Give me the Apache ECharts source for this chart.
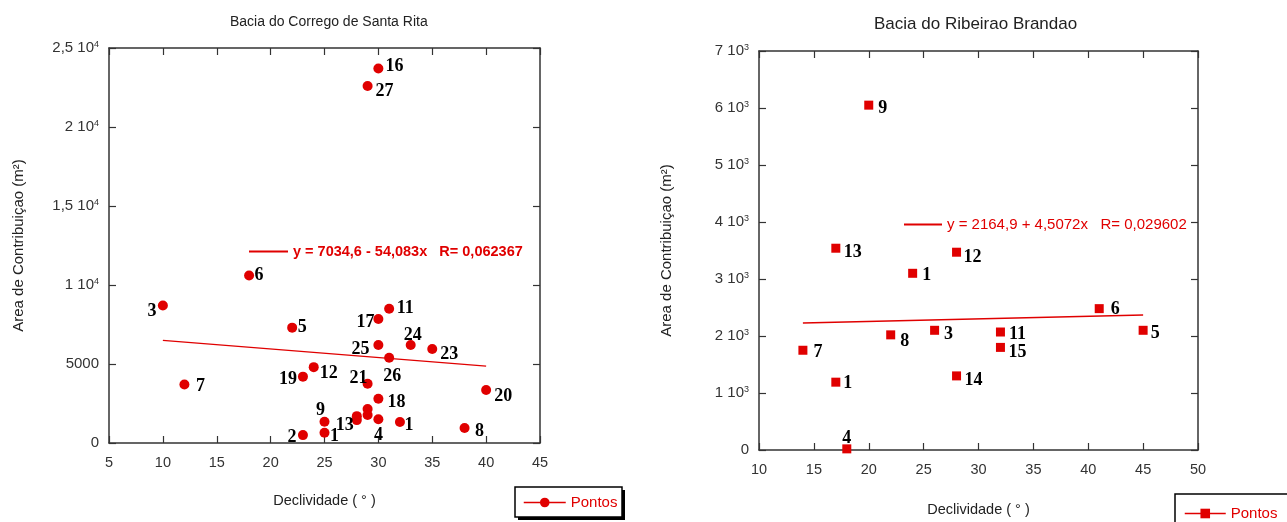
<!DOCTYPE html>
<html><head><meta charset="utf-8">
<script src="https://cdn.jsdelivr.net/npm/echarts@6/dist/echarts.min.js"></script>
<style>html,body{margin:0;padding:0;background:#fff}#c{width:1287px;height:522px}</style>
</head><body><div id="c"></div>
<script>
// ---------- DATA ----------
const titleLeft = 'Bacia do Corrego de Santa Rita';
const titleRight = 'Bacia do Ribeirao Brandao';
const xAxisName = 'Declividade ( ° )';
const yAxisName = 'Area de Contribuiçao (m²)';
const legendName = 'Pontos';

// Left chart (Corrego de Santa Rita)
const leftIds   = ['16','27','6','3','11','17','5','24','25','23','26','12','19','21','7','20','18','','','','13','4','1','9','1','2','8'];
const leftSlope = [30,29,18,10,31,30,22,33,30,35,31,24,23,29,12,40,30,29,29,28,28,30,32,25,25,23,38];
const leftArea  = [23700,22600,10600,8700,8500,7850,7300,6200,6200,5950,5400,4800,4200,3750,3700,3350,2800,2150,1770,1700,1450,1500,1330,1350,650,500,950];
const leftFitSlope = [10, 40];
const leftFitArea  = [6490, 4870];
const leftFitLabel = 'y = 7034,6 - 54,083x   R= 0,062367';
const leftYTickValues = [0, 5000, 10000, 15000, 20000, 25000];
const leftYTickLabels = ['0', '5000', '1 10^4', '1,5 10^4', '2 10^4', '2,5 10^4'];

// Right chart (Ribeirao Brandao)
const rightIds   = ['9','13','12','1','6','3','11','5','8','15','7','14','1','4'];
const rightSlope = [20,17,28,24,41,26,32,45,22,32,14,28,17,18];
const rightArea  = [6050,3540,3470,3100,2480,2100,2070,2100,2020,1800,1750,1300,1190,20];
const rightFitSlope = [14, 45];
const rightFitArea  = [2230, 2370];
const rightFitLabel = 'y = 2164,9 + 4,5072x   R= 0,029602';
const rightYTickValues = [0, 1000, 2000, 3000, 4000, 5000, 6000, 7000];
const rightYTickLabels = ['0', '1 10^3', '2 10^3', '3 10^3', '4 10^3', '5 10^3', '6 10^3', '7 10^3'];

// ---------- STYLE (label placement offsets, px) ----------
const leftLabelOffsets = [[16,-2],[17,5],[10,0],[-11,6],[16,0],[-13,3],[10,0],[2,-10],[-18,4],[17,5],[3,19],[15,6],[-15,3],[-9,-5],[16,2],[17,6],[18,4],[0,0],[0,0],[0,0],[-12,5],[0,16],[9,3],[-4,-11],[10,4],[-11,2],[15,3]];
const rightLabelOffsets = [[14,3],[17,4],[16,5],[14,2],[16,1],[14,4],[17,2],[12,3],[14,6],[17,5],[15,2],[17,4],[12,1],[0,-11]];

const RED = '#e00000';
const SANS = "'Liberation Sans', Arial, sans-serif";
const SERIF = "'Liberation Serif', 'Times New Roman', serif";
const AXIS_COLOR = '#333';

function tickFormatter(values, labels) {
  return function (v) {
    const i = values.indexOf(v);
    if (i < 0) return '';
    const s = labels[i];
    const k = s.indexOf('^');
    if (k < 0) return '{n|' + s + '}';
    return '{n|' + s.slice(0, k) + '}{s|' + s.slice(k + 1) + '}';
  };
}
const tickRich = {
  n: { fontSize: 15, fontFamily: SANS, color: '#333' },
  s: { fontSize: 9, fontFamily: SANS, color: '#333', verticalAlign: 'top' }
};

function mainX(grid, min, max, gap) {
  return {
    type: 'value', gridIndex: grid, min: min, max: max, interval: 5, position: 'bottom',
    name: xAxisName, nameLocation: 'middle', nameGap: gap,
    nameTextStyle: { fontSize: 14.5, fontFamily: SANS, color: '#222' },
    axisLine: { show: true, onZero: false, lineStyle: { color: AXIS_COLOR, width: 1.5 } },
    axisTick: { show: true, inside: true, length: 7, lineStyle: { color: AXIS_COLOR, width: 1.2 } },
    axisLabel: { show: true, margin: 12, fontSize: 14.5, fontFamily: SANS, color: '#333', showMinLabel: true, showMaxLabel: true },
    splitLine: { show: false }
  };
}
function topX(grid, min, max) {
  return {
    type: 'value', gridIndex: grid, min: min, max: max, interval: 5, position: 'top',
    axisLine: { show: true, onZero: false, lineStyle: { color: AXIS_COLOR, width: 1.5 } },
    axisTick: { show: true, inside: true, length: 7, lineStyle: { color: AXIS_COLOR, width: 1.2 } },
    axisLabel: { show: false }, splitLine: { show: false }
  };
}
function mainY(grid, max, interval, values, labels, gap) {
  return {
    type: 'value', gridIndex: grid, min: 0, max: max, interval: interval, position: 'left',
    name: yAxisName, nameLocation: 'middle', nameGap: gap,
    nameTextStyle: { fontSize: 15, fontFamily: SANS, color: '#222' },
    axisLine: { show: true, onZero: false, lineStyle: { color: AXIS_COLOR, width: 1.5 } },
    axisTick: { show: true, inside: true, length: 7, lineStyle: { color: AXIS_COLOR, width: 1.2 } },
    axisLabel: { show: true, margin: 10, formatter: tickFormatter(values, labels), rich: tickRich, showMinLabel: true, showMaxLabel: true },
    splitLine: { show: false }
  };
}
function rightY(grid, max, interval) {
  return {
    type: 'value', gridIndex: grid, min: 0, max: max, interval: interval, position: 'right',
    axisLine: { show: true, onZero: false, lineStyle: { color: AXIS_COLOR, width: 1.5 } },
    axisTick: { show: true, inside: true, length: 7, lineStyle: { color: AXIS_COLOR, width: 1.2 } },
    axisLabel: { show: false }, splitLine: { show: false }
  };
}

function pointSeries(name, xi, yi, xs, ys, ids, offsets, symbol, size) {
  return {
    name: name, type: 'line', xAxisIndex: xi, yAxisIndex: yi,
    data: xs.map((x, i) => ({ value: [x, ys[i]], label: { offset: offsets[i] } })),
    symbol: symbol, symbolSize: size, showSymbol: true, showAllSymbol: true,
    lineStyle: { opacity: 0, color: RED, width: 1.5 },
    itemStyle: { color: RED, borderWidth: 0 },
    label: {
      show: true, position: 'inside', formatter: p => ids[p.dataIndex],
      color: '#000', fontFamily: SERIF, fontWeight: 'bold', fontSize: 18
    },
    emphasis: { disabled: true }, z: 4
  };
}
function fitSeries(name, xi, yi, xs, ys, width) {
  return {
    name: name, type: 'line', xAxisIndex: xi, yAxisIndex: yi,
    data: xs.map((x, i) => [x, ys[i]]),
    symbol: 'none', lineStyle: { color: RED, width: width }, itemStyle: { color: RED },
    emphasis: { disabled: true }, z: 3
  };
}

function pointsLegend(seriesName, left, top, w) {
  return {
    data: [seriesName], left: left, top: top, orient: 'horizontal',
    formatter: () => legendName, selectedMode: false,
    itemWidth: w, itemHeight: 12, itemGap: 5, padding: 0,
    lineStyle: { opacity: 1, width: 1.5, color: RED },
    textStyle: { color: RED, fontSize: 15, fontFamily: SANS }
  };
}
function fitLegend(seriesName, left, top, w, bold, size) {
  return {
    data: [seriesName], left: left, top: top, selectedMode: false,
    itemWidth: w, itemHeight: 14, padding: 0,
    itemStyle: { opacity: 0 },
    lineStyle: { opacity: 1 },
    textStyle: { color: RED, fontSize: size, fontWeight: bold ? 'bold' : 'normal', fontFamily: SANS }
  };
}
function legendFrame(x, y, w, h) {
  return [
    { type: 'rect', silent: true, z: 0, shape: { x: x + 3, y: y + 3, width: w, height: h }, style: { fill: '#000' } },
    { type: 'rect', silent: true, z: 1, shape: { x: x, y: y, width: w, height: h }, style: { fill: '#fff', stroke: '#000', lineWidth: 1.5 } }
  ];
}

const chart = echarts.init(document.getElementById('c'), null, { renderer: 'canvas' });
chart.setOption({
  animation: false,
  backgroundColor: '#fff',
  title: [
    { text: titleLeft, left: 230, top: 15, padding: 0,
      textStyle: { fontSize: 14, fontWeight: 'normal', color: '#222', fontFamily: SANS } },
    { text: titleRight, left: 874, top: 16, padding: 0,
      textStyle: { fontSize: 17, fontWeight: 'normal', color: '#222', fontFamily: SANS } }
  ],
  graphic: [].concat(legendFrame(515, 487, 107, 30), legendFrame(1175, 494, 130, 40)),
  grid: [
    { left: 109, top: 48, width: 431, height: 395 },
    { left: 759, top: 51, width: 439, height: 401 }
  ],
  xAxis: [ mainX(0, 5, 45, 50), topX(0, 5, 45), mainX(1, 10, 50, 52), topX(1, 10, 50) ],
  yAxis: [
    mainY(0, 25000, 5000, leftYTickValues, leftYTickLabels, 83), rightY(0, 25000, 5000),
    mainY(1, 7000, 1000, rightYTickValues, rightYTickLabels, 85), rightY(1, 7000, 1000)
  ],
  legend: [
    pointsLegend('PontosL', 523, 495, 42),
    pointsLegend('PontosR', 1184, 506, 41),
    fitLegend(leftFitLabel, 248, 244, 39, true, 14.5),
    fitLegend(rightFitLabel, 903, 217, 38, false, 15)
  ],
  series: [
    fitSeries(leftFitLabel, 0, 0, leftFitSlope, leftFitArea, 1.2),
    pointSeries('PontosL', 0, 0, leftSlope, leftArea, leftIds, leftLabelOffsets, 'circle', 10),
    fitSeries(rightFitLabel, 2, 2, rightFitSlope, rightFitArea, 1.5),
    pointSeries('PontosR', 2, 2, rightSlope, rightArea, rightIds, rightLabelOffsets, 'rect', 9)
  ]
});
</script>
</body></html>
